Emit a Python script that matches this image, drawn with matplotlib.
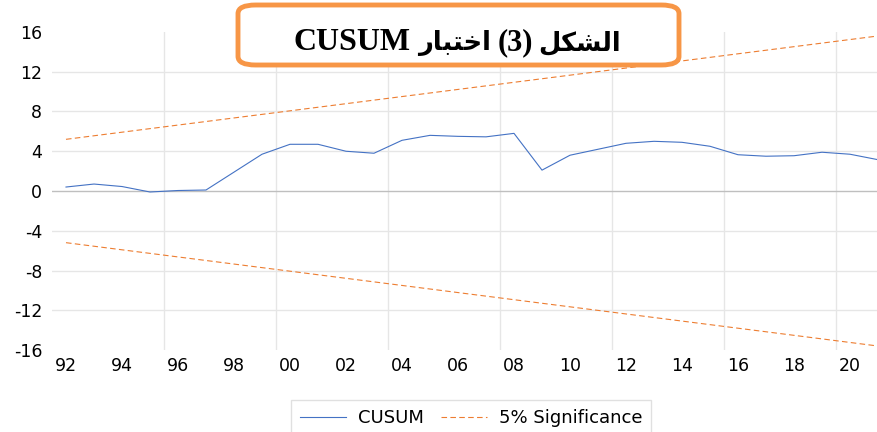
import numpy as np
import matplotlib.pyplot as plt
from matplotlib.patches import FancyBboxPatch
from matplotlib.ticker import FixedLocator

# 数据
years = list(range(1992, 2022))
cusum = [0.4, 0.7, 0.45, -0.1, 0.05, 0.1, 1.9, 3.7, 4.7, 4.7,
         4.0, 3.8, 5.1, 5.6, 5.5, 5.45, 5.8, 2.1, 3.6, 4.2,
         4.8, 5.0, 4.9, 4.5, 3.65, 3.5, 3.55, 3.9, 3.7, 3.15]
bound_start = 5.2
bound_end = 15.6
upper = np.linspace(bound_start, bound_end, len(years))
lower = -upper

x_labels = ['92', '94', '96', '98', '00', '02', '04', '06',
            '08', '10', '12', '14', '16', '18', '20']
y_ticks = [-16, -12, -8, -4, 0, 4, 8, 12, 16]

# 标题（阿拉伯文已按显示顺序排列，从左到右）
title_parts = [
    ("CUSUM", 352, 23),
    ("\uFEAD\uFE8E\uFE92\uFE98\uFEA7\uFE8D", 455, 18.5),   # اختبار
    ("(3)", 515, 22),
    ("\uFEDE\uFEDC\uFEB8\uFEDF\uFE8D", 580, 18.5),          # الشكل
]

blue = '#4472C4'
orange = '#ED7D31'
grid_c = '#E6E6E6'

plt.rcParams['font.family'] = ['DejaVu Sans']
plt.rcParams['axes.unicode_minus'] = False

fig = plt.figure(figsize=(8.78, 4.32), dpi=100)
ax = fig.add_axes([52 / 878, 82 / 432, 826 / 878, 318 / 432])

ax.plot(years, cusum, color=blue, lw=0.8, label='CUSUM')
ax.plot(years, upper, color=orange, lw=0.8, ls=(0, (5, 3)), label='5% Significance')
ax.plot(years, lower, color=orange, lw=0.8, ls=(0, (5, 3)))

ax.set_xlim(1991.5, 2021.0)
ax.set_ylim(-16, 16)

ax.set_xticks(years[::2])
ax.set_xticklabels(x_labels)
ax.xaxis.set_minor_locator(FixedLocator(np.arange(1995.5, 2021, 4)))
ax.set_yticks(y_ticks)

ax.tick_params(axis='both', which='both', length=0, labelsize=12.5, colors='black')
ax.tick_params(axis='x', pad=5)
ax.tick_params(axis='y', pad=7)

for s in ax.spines.values():
    s.set_visible(False)

ax.grid(True, axis='x', which='minor', color=grid_c, lw=1)
ax.grid(True, axis='y', which='major', color=grid_c, lw=1)
ax.grid(False, axis='x', which='major')
for v, gl in zip(y_ticks, ax.get_ygridlines()):
    if v in (-16, 0, 16):
        gl.set_visible(False)
ax.axhline(0, color='#BFBFBF', lw=1, zorder=1)
ax.set_axisbelow(True)

leg = fig.legend(loc='upper center', bbox_to_anchor=(471 / 878, (432 - 400) / 432),
                 ncol=2, frameon=True, fancybox=False, fontsize=13,
                 handlelength=2.55, handletextpad=0.67, columnspacing=0.95,
                 borderpad=0.5, borderaxespad=0, edgecolor='#D9D9D9')
leg.get_frame().set_linewidth(1)

# 标题框
box = FancyBboxPatch((238 / 878, (432 - 65) / 432), 441 / 878, 60 / 432,
                     boxstyle='round,pad=0,rounding_size=0.02',
                     transform=fig.transFigure, facecolor='white',
                     edgecolor='#F79646', lw=3.5, zorder=5)
fig.patches.append(box)
base_y = (432 - 50) / 432
for txt, xc, fs in title_parts:
    fig.text(xc / 878, base_y, txt, ha='center', va='baseline',
             fontsize=fs, fontweight='bold',
             family=['Liberation Serif', 'DejaVu Sans'], zorder=6)

fig.savefig('out.png', dpi=100)
